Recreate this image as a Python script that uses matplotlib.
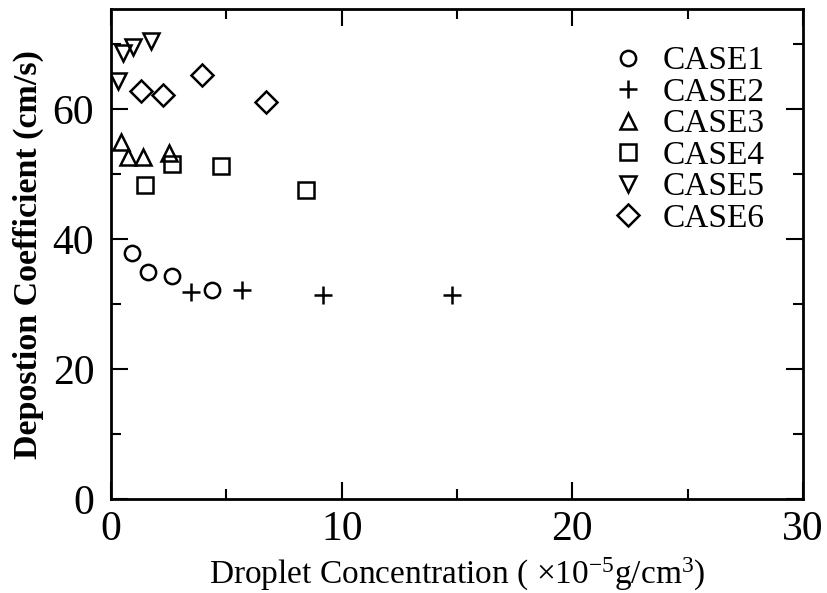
# encoding: utf-8

import matplotlib
matplotlib.use("Agg")
import matplotlib.pyplot as plt
from matplotlib.ticker import MultipleLocator

plt.rcParams['font.family'] = ['Liberation Serif', 'DejaVu Serif']
plt.rcParams['mathtext.fontset'] = 'custom'
plt.rcParams['mathtext.rm'] = 'Liberation Serif'
plt.rcParams['mathtext.it'] = 'Liberation Serif'

# values
case1_x = [0.90, 1.59, 2.63, 4.36]
case1_y = [37.8, 34.9, 34.4, 32.2]
case2_x = [3.45, 5.69, 9.18, 14.77]
case2_y = [31.9, 32.2, 31.4, 31.4]
case3_x = [0.42, 0.75, 1.37, 2.51]
case3_y = [55.0, 52.6, 52.6, 53.2]
case4_x = [2.63, 1.47, 4.77, 8.44]
case4_y = [51.5, 48.3, 51.3, 47.5]
case5_x = [0.32, 0.51, 0.97, 1.73]
case5_y = [64.3, 68.6, 69.5, 70.4]
case6_x = [1.30, 2.27, 3.93, 6.71]
case6_y = [62.8, 62.2, 65.2, 61.1]

series = [
    ("CASE1", case1_x, case1_y, 'o', 11),
    ("CASE2", case2_x, case2_y, '+', 13),
    ("CASE3", case3_x, case3_y, '^', 12),
    ("CASE4", case4_x, case4_y, 's', 11),
    ("CASE5", case5_x, case5_y, 'v', 12),
    ("CASE6", case6_x, case6_y, 'D', 11),
]

fig = plt.figure(figsize=(8.28, 5.93), dpi=100)
ax = fig.add_axes([0.134, 0.158, 0.836, 0.827])

for name, xs, ys, mk, ms in series:
    ax.plot(xs, ys, linestyle='none', marker=mk, markersize=ms,
            markerfacecolor='none', markeredgecolor='black',
            markeredgewidth=1.8, label=name)

ax.set_xlim(0, 30)
ax.set_ylim(0, 75.4)
ax.xaxis.set_major_locator(MultipleLocator(10))
ax.xaxis.set_minor_locator(MultipleLocator(5))
ax.yaxis.set_major_locator(MultipleLocator(20))
ax.yaxis.set_minor_locator(MultipleLocator(10))
ax.tick_params(which='both', direction='in', top=True, right=True,
               width=1.5, labelsize=30)
ax.tick_params(axis='y', pad=12)
ax.tick_params(axis='x', pad=8)
ax.tick_params(which='major', length=12)
ax.tick_params(which='minor', length=7)
for sp in ax.spines.values():
    sp.set_linewidth(2)

ax.set_xlabel(r"Droplet Concentration ( $\times$10$^{-5}$g/cm$^{3}$)",
              fontsize=24, labelpad=5)
ax.set_ylabel("Depostion Coefficient (cm/s)", fontsize=24.5,
              fontweight='bold', labelpad=6)

ax.legend(loc='upper left', bbox_to_anchor=(0.723, 0.925), frameon=False,
          fontsize=24, markerscale=1.0, handlelength=1.0,
          handletextpad=0.53, labelspacing=0.03, borderpad=0,
          borderaxespad=0)

fig.savefig("out.png", dpi=100)
